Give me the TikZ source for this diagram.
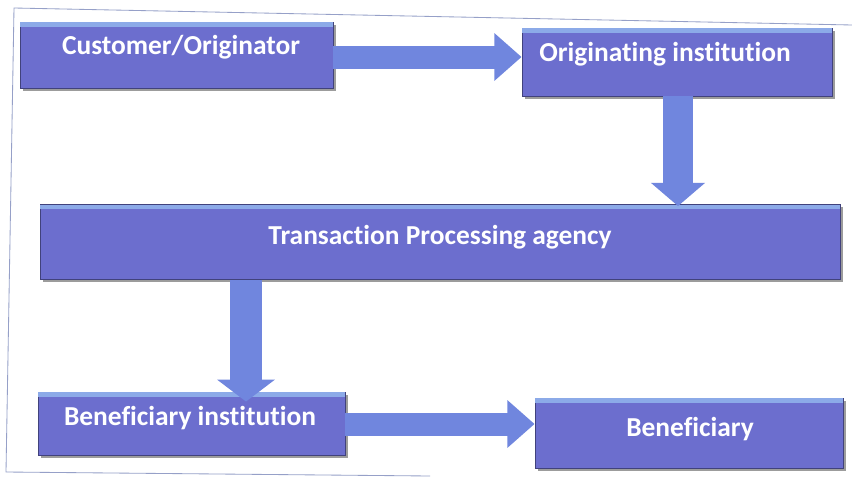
\documentclass[tikz,border=0pt]{standalone}
\usepackage{fontspec}
\setmainfont[Ligatures={NoCommon}]{Carlito}
\usetikzlibrary{arrows.meta,shadows}

\definecolor{boxblue}{RGB}{108,110,206}
\definecolor{boxtop}{RGB}{140,170,232}
\definecolor{arrowblue}{RGB}{112,134,222}
\definecolor{framegray}{RGB}{150,160,200}

\tikzset{
  flowbox/.style={draw=boxblue!60!black, line width=0.6pt, fill=boxblue,
    drop shadow={shadow xshift=2pt, shadow yshift=-2pt, fill=black!55, opacity=0.7},
    inner sep=0pt},
  flowtext/.style={text=white, font=\fontsize{19.5}{22}\selectfont\bfseries},
  flowarrow/.style={line width=23*0.025cm, arrowblue,
    -{Triangle[length=0.68cm, width=1.15cm]}}
}

\begin{document}
\begin{tikzpicture}[x=0.025cm, y=-0.025cm]
      \useasboundingbox[fill=white] (0,0) rectangle (852,480);
      % scan frame
      \draw[framegray, line width=0.6pt] (852,25) -- (14,8) -- (6,472) -- (430,476);
      % boxes
      \node[flowbox, minimum width=313*0.025cm, minimum height=66*0.025cm] (cust) at (176.5,55) {};
      \node[flowbox, minimum width=310*0.025cm, minimum height=68*0.025cm] (orig) at (677,62) {};
      \node[flowbox, minimum width=800*0.025cm, minimum height=75*0.025cm] (tpa) at (440,242) {};
      \node[flowbox, minimum width=307*0.025cm, minimum height=63*0.025cm] (binst) at (191.5,423.5) {};
      \node[flowbox, minimum width=308*0.025cm, minimum height=70*0.025cm] (bene) at (689,433) {};
      % light top edges
      \foreach \b in {cust,orig,tpa,binst,bene}
        \fill[boxtop] ([xshift=0.6pt,yshift=-0.6pt]\b.north west) rectangle ([xshift=-0.6pt,yshift=-3.5pt]\b.north east);
      % labels
      \node[flowtext] (custtxt) at (181,47) {Customer/Originator};
      \node[flowtext] (origtxt) at (665,54) {Originating institution};
      \node[flowtext] (tpatxt) at (440,237) {Transaction Processing agency};
      \node[flowtext] (binsttxt) at (190,418) {Beneficiary institution};
      \node[flowtext] (benetxt) at (690,429) {Beneficiary};
      % arrows
      \coordinate (a1) at (0,57);
      \coordinate (d1) at (678,0);
      \coordinate (d2) at (246,0);
      \coordinate (a2) at (0,424);
      \draw[flowarrow] (cust.east |- a1) -- (orig.west |- a1);
      \draw[flowarrow, line width=30*0.025cm, -{Triangle[length=0.58cm, width=1.32cm]}]
        (orig.south -| d1) -- ([yshift=-0.05cm]tpa.north -| d1);
      \draw[flowarrow, line width=32*0.025cm, -{Triangle[length=0.55cm, width=1.42cm]}]
        (tpa.south -| d2) -- ([yshift=-0.25cm]binst.north -| d2);
      \draw[flowarrow] (binst.east |- a2) -- (bene.west |- a2);
    \end{tikzpicture}
\end{document}
